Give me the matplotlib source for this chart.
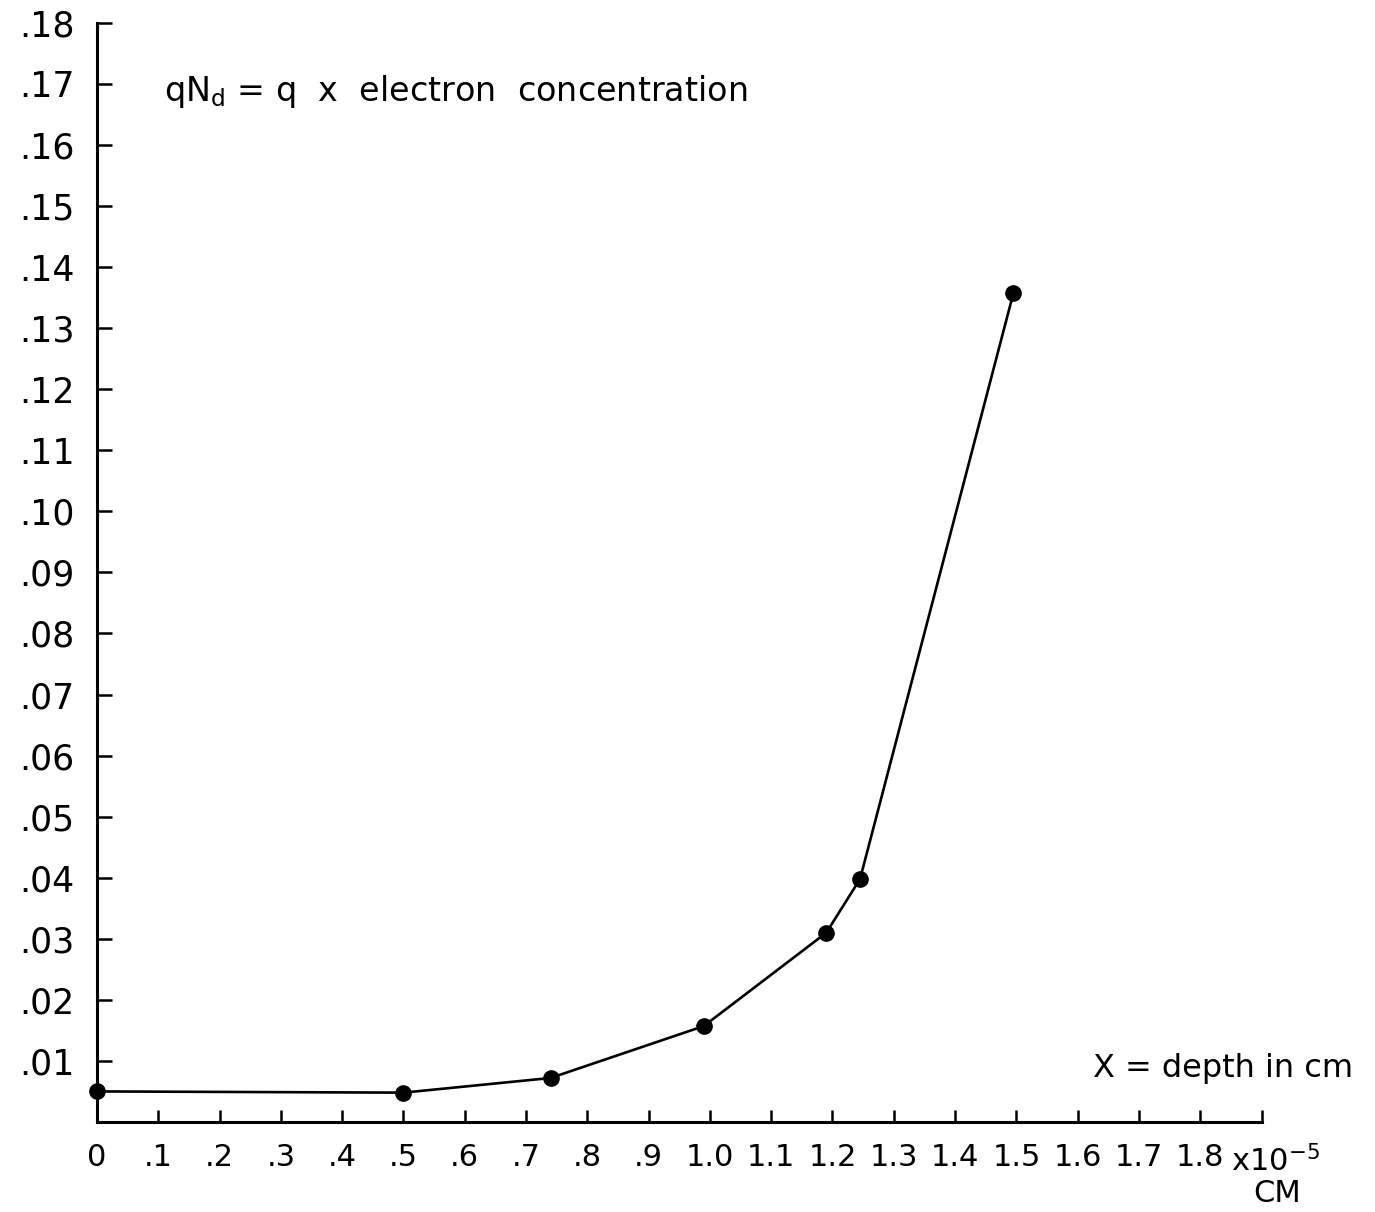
import matplotlib
matplotlib.use("Agg")
import matplotlib.pyplot as plt

# depth (x 1e-5 cm) and qNd values
depth = [0.0, 0.5, 0.74, 0.99, 1.19, 1.245, 1.495]
qnd = [0.005, 0.0048, 0.0072, 0.0157, 0.031, 0.0398, 0.1357]

x_ticks = [i / 10 for i in range(20)]
x_labels = ["0", ".1", ".2", ".3", ".4", ".5", ".6", ".7", ".8", ".9",
            "1.0", "1.1", "1.2", "1.3", "1.4", "1.5", "1.6", "1.7", "1.8", ""]
y_ticks = [i / 100 for i in range(1, 19)]
y_labels = [".01", ".02", ".03", ".04", ".05", ".06", ".07", ".08", ".09",
            ".10", ".11", ".12", ".13", ".14", ".15", ".16", ".17", ".18"]

plt.rcParams['font.family'] = ['DejaVu Sans']

fig = plt.figure(figsize=(13.75, 12.12), dpi=100)
ax = fig.add_axes([0.0705, 0.0743, 0.847, 0.9068])

ax.plot(depth, qnd, 'k-o', linewidth=1.9, markersize=11, clip_on=False, zorder=3)

ax.set_xlim(0, 1.9)
ax.set_ylim(0, 0.18)
ax.set_xticks(x_ticks)
ax.set_xticklabels(x_labels)
ax.set_yticks(y_ticks)
ax.set_yticklabels(y_labels)
ax.tick_params(axis='both', direction='in', width=1.8)
ax.tick_params(axis='x', length=9, pad=15, labelsize=22)
ax.tick_params(axis='y', length=11, pad=16, labelsize=25)

for side in ['top', 'right']:
    ax.spines[side].set_visible(False)
for side in ['left', 'bottom']:
    ax.spines[side].set_linewidth(2.2)

ax.text(0.11, 0.1687, r"qN$_\mathregular{d}$ = q  x  electron  concentration",
        fontsize=24, ha='left', va='center')
ax.text(2.05, 0.0088, "X = depth in cm", fontsize=23, ha='right', va='center')
# scale factor and unit for the depth axis
ax.text(1.85, -0.0065, r"x10$^{-5}$", fontsize=22, ha='left', va='center',
        clip_on=False)
ax.text(1.925, -0.0118, "CM", fontsize=22, ha='center', va='center', clip_on=False)

fig.savefig('out.png', dpi=100)
